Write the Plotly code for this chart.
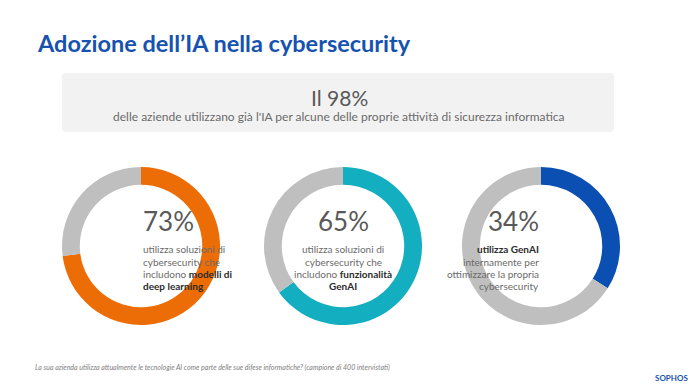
import plotly.graph_objects as go

# Data
labels = ["Sì", "No"]
pct_values = [73, 65, 34]
headline_pct = 98
big_labels = ["73%", "65%", "34%"]
B = "<span style='color:#2b2b2b'><b>{}</b></span>"
descriptions = [
    ["utilizza soluzioni di", "cybersecurity che", "includono " + B.format("modelli di"), B.format("deep learning")],
    ["utilizza soluzioni di", "cybersecurity che", "includono " + B.format("funzionalità"), B.format("GenAI")],
    [B.format("utilizza GenAI"), "internamente per", "ottimizzare la propria", "cybersecurity"],
]
colors = ["#EC6D05", "#13AEBF", "#0B4FB3"]
gray = "#BFBFBF"

W, H = 696, 392
centers_x = [141, 343, 541]
center_y = 246
radius = 79
line_y = [249, 261.5, 273.5, 286]


def py(y):
    return (H - y) / H


fig = go.Figure()
for i, v in enumerate(pct_values):
    cx = centers_x[i]
    fig.add_trace(go.Pie(
        labels=labels, values=[v, 100 - v],
        marker=dict(colors=[colors[i], gray], line=dict(width=0)),
        hole=0.775, sort=False, direction="clockwise", rotation=0,
        textinfo="none", hoverinfo="none", showlegend=False,
        domain=dict(x=[(cx - radius) / W, (cx + radius) / W],
                    y=[py(center_y + radius), py(center_y - radius)]),
    ))
    fig.add_annotation(x=cx / W, y=py(221), xref="paper", yref="paper",
                       text=big_labels[i], showarrow=False, yanchor="middle",
                       font=dict(family="Lato", size=26, color="#595959"))
    for j, line in enumerate(descriptions[i]):
        fig.add_annotation(x=cx / W, y=py(line_y[j]), xref="paper", yref="paper",
                           text=line, showarrow=False, yanchor="middle",
                           font=dict(family="Lato", size=10, color="#6b6b6b"))

# rounded grey banner
x0, x1, y0, y1, r = 62 / W, 614 / W, py(132), py(73), 4
rx, ry = r / W, r / H
path = (f"M {x0+rx},{y0} L {x1-rx},{y0} Q {x1},{y0} {x1},{y0+ry} "
        f"L {x1},{y1-ry} Q {x1},{y1} {x1-rx},{y1} L {x0+rx},{y1} "
        f"Q {x0},{y1} {x0},{y1-ry} L {x0},{y0+ry} Q {x0},{y0} {x0+rx},{y0} Z")
fig.add_shape(type="path", xref="paper", yref="paper", path=path,
              fillcolor="#F2F2F2", line=dict(width=0), layer="below")

fig.add_annotation(x=339 / W, y=py(97), xref="paper", yref="paper",
                   text=f"Il {headline_pct}%", showarrow=False, yanchor="middle",
                   font=dict(family="Lato", size=21, color="#595959"))
fig.add_annotation(x=339 / W, y=py(117), xref="paper", yref="paper",
                   text="delle aziende utilizzano già l'IA per alcune delle proprie attività di sicurezza informatica",
                   showarrow=False, yanchor="middle",
                   font=dict(family="Lato", size=12, color="#6b6b6b"))

fig.add_annotation(x=35 / W, y=py(43), xref="paper", yref="paper",
                   xanchor="left", yanchor="middle",
                   text="<b>Adozione dell’IA nella cybersecurity</b>",
                   showarrow=False, font=dict(family="Lato", size=23.5, color="#1652B0"))

fig.add_annotation(x=33 / W, y=py(367), xref="paper", yref="paper",
                   xanchor="left", yanchor="middle",
                   text="<i>La sua azienda utilizza attualmente le tecnologie AI come parte delle sue difese informatiche? (campione di 400 intervistati)</i>",
                   showarrow=False, font=dict(family="Lato", size=7, color="#808080"))
fig.add_annotation(x=690 / W, y=py(378), xref="paper", yref="paper",
                   xanchor="right", yanchor="middle", text="<b>SOPHOS</b>", showarrow=False,
                   font=dict(family="Lato", size=8, color="#1652B0"))

fig.update_layout(width=W, height=H, margin=dict(l=0, r=0, t=0, b=0),
                  paper_bgcolor="white", plot_bgcolor="white")
fig.write_html("out.html", config={"displayModeBar": False},
               post_script="document.body.style.margin='0';document.body.style.overflow='hidden';")
